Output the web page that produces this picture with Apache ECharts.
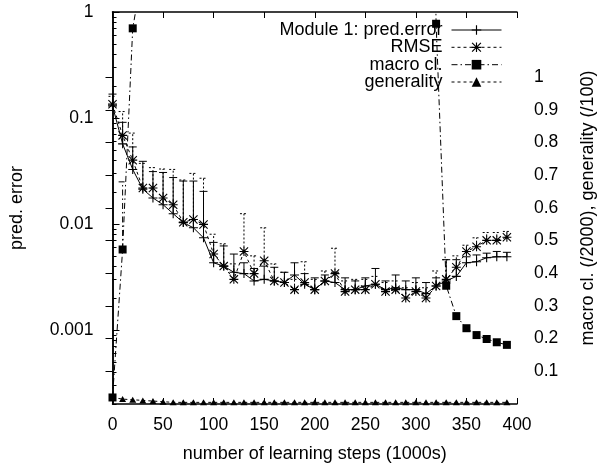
<!DOCTYPE html>
<html>
<head>
<meta charset="utf-8">
<script src="https://cdn.jsdelivr.net/npm/echarts@6/dist/echarts.min.js"></script>
<style>
  html, body { margin: 0; padding: 0; background: #fff; }
  #chart { width: 605px; height: 468px; }
</style>
</head>
<body>
<div id="chart"></div>
<script>
var myChart = echarts.init(document.getElementById('chart'));

// learning steps (1000s)
var steps = [0, 10, 20, 30, 40, 50, 60, 70, 80, 90, 100, 110, 120, 130, 140, 150, 160, 170, 180, 190,
             200, 210, 220, 230, 240, 250, 260, 270, 280, 290, 300, 310, 320, 330, 340, 350, 360, 370, 380, 390];

// Module 1: pred.error and its upper error bar
var predErr = [0.13, 0.057, 0.0327, 0.0213, 0.0176, 0.0152, 0.0125, 0.0103, 0.0092, 0.0074,
               0.0043, 0.0040, 0.0035, 0.0034, 0.0029, 0.0030, 0.0029, 0.0028, 0.0033, 0.0027,
               0.0024, 0.0029, 0.0028, 0.0024, 0.0024, 0.0026, 0.0027, 0.0024, 0.0025, 0.0024,
               0.0024, 0.0022, 0.0026, 0.0029, 0.0032, 0.0043, 0.0044, 0.0048, 0.0049, 0.0049];
var predTop = [0.168, 0.091, 0.0533, 0.039, 0.0312, 0.0306, 0.0274, 0.0254, 0.0254, 0.0203,
               0.0067, 0.0062, 0.0052, 0.0043, 0.0038, 0.0040, 0.0039, 0.0035, 0.0043, 0.0034,
               0.0031, 0.0033, 0.0035, 0.0031, 0.0029, 0.0031, 0.0038, 0.0029, 0.0033, 0.0029,
               0.0031, 0.0028, 0.0031, 0.0046, 0.0046, 0.0049, 0.0051, 0.0053, 0.0055, 0.0054];

// RMSE and its upper error bar
var rmse = [0.135, 0.0685, 0.040, 0.0218, 0.0218, 0.0176, 0.0152, 0.0104, 0.011, 0.0099,
            0.0052, 0.0040, 0.0030, 0.0055, 0.0034, 0.0045, 0.0029, 0.0028, 0.0024, 0.0028,
            0.0024, 0.0029, 0.0034, 0.0023, 0.0024, 0.0024, 0.0027, 0.0023, 0.0024, 0.0020,
            0.0023, 0.0020, 0.0026, 0.0030, 0.0039, 0.0055, 0.0061, 0.0070, 0.0070, 0.0075];
var rmseTop = [0.16, 0.115, 0.072, 0.0373, 0.034, 0.033, 0.0327, 0.026, 0.030, 0.027,
               0.008, 0.0065, 0.0042, 0.0125, 0.005, 0.0092, 0.0042, 0.0035, 0.0030, 0.0044,
               0.0030, 0.0036, 0.0059, 0.0029, 0.0030, 0.0030, 0.0032, 0.0028, 0.0029, 0.0025,
               0.0028, 0.0025, 0.0036, 0.0046, 0.0050, 0.0063, 0.0074, 0.0083, 0.0083, 0.0085];

// macro cl. (/2000), most of the run is above the top of the plot
var macroCl = [0.02, 0.473, 1.15, 1.33, 1.4, 1.45, 1.5, 1.55, 1.6, 1.6,
               1.65, 1.7, 1.7, 1.75, 1.8, 1.8, 1.85, 1.9, 1.9, 1.95,
               2.0, 2.0, 2.1, 2.1, 2.2, 2.2, 2.3, 2.4, 2.5, 2.6,
               2.8, 3.0, 1.164, 0.362, 0.269, 0.232, 0.211, 0.199, 0.189, 0.181];
var macroErrX = [10];
var macroErrLow = [0.473];
var macroErrTop = [0.68];

// generality (/100)
var generality = [0.02, 0.015, 0.013, 0.011, 0.009, 0.007, 0.005, 0.005, 0.005, 0.005,
                  0.005, 0.005, 0.005, 0.005, 0.005, 0.005, 0.005, 0.005, 0.005, 0.005,
                  0.005, 0.005, 0.005, 0.005, 0.005, 0.005, 0.005, 0.005, 0.005, 0.005,
                  0.005, 0.005, 0.005, 0.005, 0.005, 0.005, 0.005, 0.005, 0.005, 0.005];

var xTicks = [0, 50, 100, 150, 200, 250, 300, 350, 400];
var leftMajor = [0.001, 0.01, 0.1, 1];
var leftMinor = [0.0002, 0.0003, 0.0004, 0.0005, 0.0006, 0.0007, 0.0008, 0.0009,
                 0.002, 0.003, 0.004, 0.005, 0.006, 0.007, 0.008, 0.009,
                 0.02, 0.03, 0.04, 0.05, 0.06, 0.07, 0.08, 0.09,
                 0.2, 0.3, 0.4, 0.5, 0.6, 0.7, 0.8, 0.9];
var rightTicks = [0.1, 0.2, 0.3, 0.4, 0.5, 0.6, 0.7, 0.8, 0.9, 1];

function pairs(ys) {
    return steps.map(function (x, i) { return [x, ys[i]]; });
}
function bars(xs, lo, hi) {
    return xs.map(function (x, i) { return [x, lo[i], hi[i]]; });
}

var font = 'Liberation Sans, Arial, sans-serif';
var fs = 17.5;   // tick labels
var fsName = 18; // axis names, legend
var plusPath = 'path://M4.4,0H5.6V4.4H10V5.6H5.6V10H4.4V5.6H0V4.4H4.4Z';
var starPath = 'path://M4.4,0H5.6V4.4H10V5.6H5.6V10H4.4V5.6H0V4.4H4.4Z' +
               'M0,0.85L0.85,0L10,9.15L9.15,10Z' +
               'M9.15,0L10,0.85L0.85,10L0,9.15Z';

function errorBar(dash) {
    return function (params, api) {
        var x = api.value(0);
        var p0 = api.coord([x, api.value(1)]);
        var p1 = api.coord([x, api.value(2)]);
        var style = {stroke: '#000', lineWidth: 1, lineDash: dash, fill: null};
        return {
            type: 'group',
            children: [
                {type: 'line', shape: {x1: p0[0], y1: p0[1], x2: p1[0], y2: p1[1]}, style: style},
                {type: 'line', shape: {x1: p1[0] - 4, y1: p1[1], x2: p1[0] + 4, y2: p1[1]}, style: style}
            ]
        };
    };
}

function legendAt(name, top) {
    return {
        data: [name],
        right: 103,
        top: top,
        padding: 0,
        align: 'right',
        itemWidth: 50,
        itemHeight: 12,
        selectedMode: false,
        lineStyle: {width: 1},
        textStyle: {fontFamily: font, fontSize: fsName, color: '#000', padding: [0, 4, 0, 0]}
    };
}

var axisLineStyle = {show: true, lineStyle: {color: '#000', width: 1.5}};

option = {
    animation: false,
    backgroundColor: '#fff',
    grid: {left: 112.5, right: 81.5, top: 12, bottom: 58.7},
    legend: [
        legendAt('Module 1: pred.error', 21),
        legendAt('RMSE', 38.3),
        legendAt('macro cl.', 55.7),
        legendAt('generality', 73)
    ],
    xAxis: [
        {
            type: 'value', min: 0, max: 400, interval: 50,
            name: 'number of learning steps (1000s)',
            nameLocation: 'middle', nameGap: 41,
            nameTextStyle: {fontFamily: font, fontSize: fsName, color: '#000'},
            axisLine: axisLineStyle,
            axisTick: {inside: true, length: 6, lineStyle: {color: '#000'}, customValues: xTicks},
            axisLabel: {fontFamily: font, fontSize: fs, color: '#000', margin: 12, customValues: xTicks},
            splitLine: {show: false}
        },
        {
            type: 'value', min: 0, max: 400, interval: 50, position: 'top',
            axisLine: axisLineStyle,
            axisTick: {inside: true, length: 6, lineStyle: {color: '#000'}},
            axisLabel: {show: false},
            splitLine: {show: false}
        }
    ],
    yAxis: [
        {
            type: 'log', min: 0.0002, max: 1, position: 'left',
            name: 'pred. error',
            nameLocation: 'middle', nameGap: 86, nameRotate: 90,
            nameTextStyle: {fontFamily: font, fontSize: fsName, color: '#000'},
            axisLine: axisLineStyle,
            axisTick: {inside: true, length: 7, lineStyle: {color: '#000'}, customValues: leftMajor},
            axisLabel: {
                fontFamily: font, fontSize: fs, color: '#000', margin: 19,
                customValues: leftMajor,
                formatter: function (v) { return String(+(+v).toPrecision(2)); }
            },
            splitLine: {show: false}
        },
        {
            type: 'value', min: 0, max: 1.2, position: 'right',
            name: 'macro cl. (/2000), generality (/100)',
            nameLocation: 'middle', nameGap: 62, nameRotate: 90,
            nameTextStyle: {fontFamily: font, fontSize: fsName, color: '#000'},
            axisLine: axisLineStyle,
            axisTick: {inside: true, length: 7, lineStyle: {color: '#000'}, customValues: rightTicks},
            axisLabel: {fontFamily: font, fontSize: fs, color: '#000', margin: 17, customValues: rightTicks},
            splitLine: {show: false}
        },
        {
            type: 'log', min: 0.0002, max: 1, position: 'left',
            axisLine: {show: false},
            axisTick: {inside: true, length: 4, lineStyle: {color: '#000'}, customValues: leftMinor},
            axisLabel: {show: false},
            splitLine: {show: false}
        }
    ],
    series: [
        {
            name: 'pred.error bars', type: 'custom', xAxisIndex: 0, yAxisIndex: 0,
            renderItem: errorBar(null), encode: {x: 0, y: [1, 2]},
            data: bars(steps, predErr, predTop), z: 2, silent: true
        },
        {
            name: 'RMSE bars', type: 'custom', xAxisIndex: 0, yAxisIndex: 0,
            renderItem: errorBar([2, 2]), encode: {x: 0, y: [1, 2]},
            data: bars(steps, rmse, rmseTop), z: 2, silent: true
        },
        {
            name: 'macro bars', type: 'custom', xAxisIndex: 0, yAxisIndex: 1,
            renderItem: errorBar([6, 3, 1.5, 3]), encode: {x: 0, y: [1, 2]},
            data: bars(macroErrX, macroErrLow, macroErrTop), z: 2, silent: true
        },
        {
            name: 'Module 1: pred.error', type: 'line', xAxisIndex: 0, yAxisIndex: 0,
            data: pairs(predErr), symbol: plusPath, symbolSize: 9, clip: true,
            itemStyle: {color: '#000'}, lineStyle: {color: '#000', width: 1}, z: 3
        },
        {
            name: 'RMSE', type: 'line', xAxisIndex: 0, yAxisIndex: 0,
            data: pairs(rmse), symbol: starPath, symbolSize: 9, clip: true,
            itemStyle: {color: '#000'}, lineStyle: {color: '#000', width: 1, type: [3, 3]}, z: 3
        },
        {
            name: 'macro cl.', type: 'line', xAxisIndex: 0, yAxisIndex: 1,
            data: pairs(macroCl), symbol: 'rect', symbolSize: 8, clip: true,
            itemStyle: {color: '#000'}, lineStyle: {color: '#000', width: 1, type: [6, 3, 1.5, 3]}, z: 3
        },
        {
            name: 'generality', type: 'line', xAxisIndex: 0, yAxisIndex: 1,
            data: pairs(generality), symbol: 'triangle', symbolSize: [7, 6], clip: true,
            itemStyle: {color: '#000'}, lineStyle: {color: '#000', width: 1, type: [3, 3]}, z: 3
        }
    ]
};
myChart.setOption(option);
</script>
</body>
</html>
